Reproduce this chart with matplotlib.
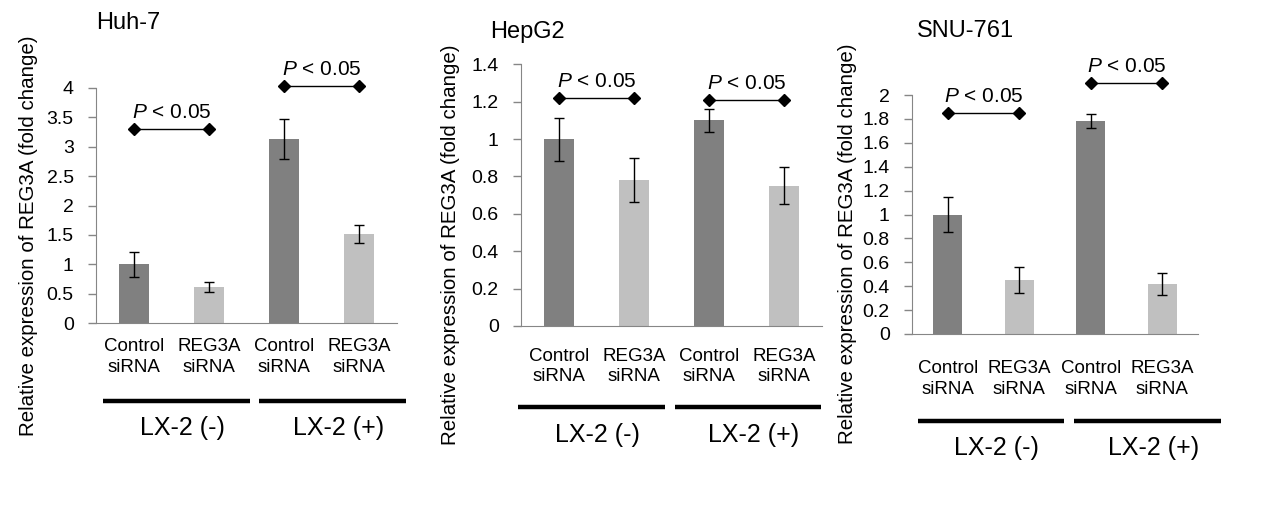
import numpy as np
import matplotlib
matplotlib.use("Agg")
import matplotlib.pyplot as plt
from matplotlib.transforms import blended_transform_factory

plt.rcParams['font.family'] = ['Liberation Sans', 'DejaVu Sans']
plt.rcParams['mathtext.fontset'] = 'custom'
plt.rcParams['mathtext.it'] = 'Liberation Sans:italic'
plt.rcParams['mathtext.rm'] = 'Liberation Sans'

categories = ['Control\nsiRNA', 'REG3A\nsiRNA', 'Control\nsiRNA', 'REG3A\nsiRNA']
groups = ['LX-2 (-)', 'LX-2 (+)']
cells = ['Huh-7', 'HepG2', 'SNU-761']

huh7_mean = [1.0, 0.61, 3.13, 1.51]
huh7_err = [0.21, 0.08, 0.34, 0.15]
hepg2_mean = [1.0, 0.78, 1.10, 0.75]
hepg2_err = [0.115, 0.118, 0.06, 0.10]
snu_mean = [1.0, 0.45, 1.78, 0.42]
snu_err = [0.15, 0.11, 0.06, 0.09]

# height of the P < 0.05 brackets (left pair, right pair)
huh7_p = [3.30, 4.04]
hepg2_p = [1.22, 1.21]
snu_p = [1.85, 2.10]

yticks = [np.arange(0, 4.01, 0.5), np.arange(0, 1.41, 0.2), np.arange(0, 2.01, 0.2)]
ytick_labels = [
    ['0', '0.5', '1', '1.5', '2', '2.5', '3', '3.5', '4'],
    ['0', '0.2', '0.4', '0.6', '0.8', '1', '1.2', '1.4'],
    ['0', '0.2', '0.4', '0.6', '0.8', '1', '1.2', '1.4', '1.6', '1.8', '2'],
]

means = [huh7_mean, hepg2_mean, snu_mean]
errs = [huh7_err, hepg2_err, snu_err]
pvals = [huh7_p, hepg2_p, snu_p]

W, H = 1267, 532
# axes boxes in pixels: left, top(y=ymax), right, bottom(y=0)
boxes = [(96, 88, 397, 323), (521, 64.3, 822, 326), (912, 95, 1198, 334)]
title_pos = [(0.0, 1.277), (-0.103, 1.123), (0.017, 1.268)]
ylabel_pos = [(-0.193, 0.37), (-0.203, 0.31), (-0.192, 0.379)]
tick_pad = [11, 16, 19]
line_y = [-0.332, -0.31, -0.364]
grp_text_y = [-0.447, -0.417, -0.477]
line_spans = [[(-0.41, 1.54), (1.67, 3.62)],
              [(-0.54, 1.41), (1.54, 3.49)],
              [(-0.42, 1.62), (1.77, 3.82)]]

dark = '#808080'
light = '#c0c0c0'
axis_gray = '#868686'

fig = plt.figure(figsize=(W / 100, H / 100), dpi=100)

for i in range(3):
    l, t, r, b = boxes[i]
    ax = fig.add_axes([l / W, 1 - b / H, (r - l) / W, (b - t) / H])
    x = np.arange(len(categories))
    ax.bar(x, means[i], width=0.4, color=[dark, light, dark, light], zorder=2)
    ax.errorbar(x, means[i], yerr=errs[i], fmt='none', ecolor='black',
                elinewidth=1, capsize=3.5, capthick=1, zorder=3)

    ax.set_xlim(-0.5, 3.5)
    ax.set_ylim(0, yticks[i][-1])
    ax.set_yticks(yticks[i])
    ax.set_yticklabels(ytick_labels[i], fontsize=14)
    ax.set_xticks(x)
    ax.set_xticklabels(categories, fontsize=13.5, linespacing=1.25)
    ax.tick_params(axis='x', length=0, pad=tick_pad[i])
    ax.tick_params(axis='y', length=6, width=1, color=axis_gray, pad=10)

    for s in ['top', 'right']:
        ax.spines[s].set_visible(False)
    for s in ['left', 'bottom']:
        ax.spines[s].set_color(axis_gray)

    ax.set_ylabel('Relative expression of REG3A (fold change)', fontsize=14.8)
    ax.yaxis.set_label_coords(*ylabel_pos[i])

    ax.text(title_pos[i][0], title_pos[i][1], cells[i], transform=ax.transAxes,
            fontsize=17, ha='left', va='center')

    # significance brackets
    for k, (a, c) in enumerate([(0, 1), (2, 3)]):
        yv = pvals[i][k]
        ax.plot([a, c], [yv, yv], color='black', lw=1, marker='D', markersize=6.5,
                clip_on=False, zorder=4)
        ax.annotate('$P$ < 0.05', xy=((a + c) / 2, yv), xytext=(0, 5),
                    textcoords='offset points', ha='center', va='bottom',
                    fontsize=15, annotation_clip=False)

    # group bars under the category labels
    trans = blended_transform_factory(ax.transData, ax.transAxes)
    for k, (x0, x1) in enumerate(line_spans[i]):
        ax.plot([x0, x1], [line_y[i], line_y[i]], color='black', lw=3.2,
                transform=trans, clip_on=False, solid_capstyle='butt')
        ax.text((x0 + x1) / 2 + 0.08, grp_text_y[i], groups[k], transform=trans,
                ha='center', va='center', fontsize=18)

fig.savefig('out.png', dpi=100)
